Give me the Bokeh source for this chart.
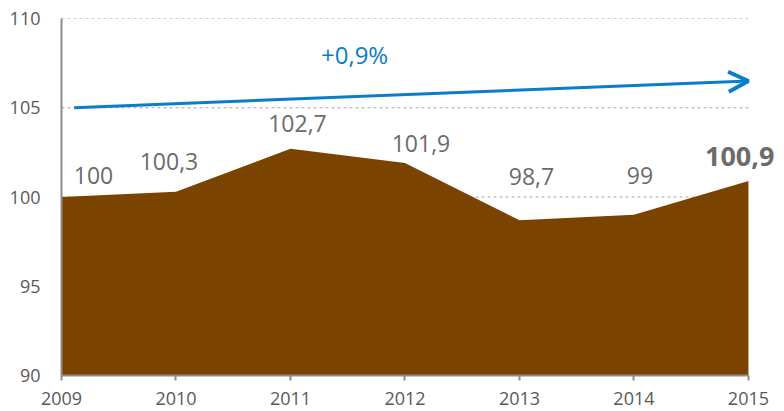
from bokeh.plotting import figure
from bokeh.models import ColumnDataSource, LabelSet, Label, Arrow, OpenHead, FixedTicker, Range1d
from bokeh.core.properties import value
from bokeh.embed import file_html
from bokeh.resources import INLINE

# ---- data ----
years = [2009, 2010, 2011, 2012, 2013, 2014, 2015]
values = [100, 100.3, 102.7, 101.9, 98.7, 99, 100.9]
value_labels = ["100", "100,3", "102,7", "101,9", "98,7", "99", "100,9"]
y_ticks = [90, 95, 100, 105, 110]
x_ticks = years

trend_x = [2009.11, 2015]
trend_y = [105, 106.5]
trend_label = "+0,9%"
trend_label_pos = [2011.56, 108]

# label placement offsets (pixels)
label_dx = [32, -7, 7, 16, 12, 6, 26]
label_dy = [22, 30, 25, 20, 44, 39, 24]

BROWN = "#7A4300"
BLUE = "#0A7DCB"
GREY_TEXT = "#595959"
LABEL_TEXT = "#6B6B6B"
FONT = "Open Sans"

X_END = 2015.245  # room on the right for the last label

p = figure(width=776, height=409, output_backend="svg", toolbar_location=None,
           x_range=Range1d(years[0], X_END), y_range=Range1d(y_ticks[0], y_ticks[-1]),
           min_border_left=61, min_border_right=0, min_border_top=18, min_border_bottom=34)
p.outline_line_color = None
p.background_fill_color = "white"
p.border_fill_color = "white"

# grid (drawn manually so it stops at the last year)
p.xgrid.grid_line_color = None
p.ygrid.grid_line_color = None
grid_src = ColumnDataSource(dict(x0=[years[0]] * len(y_ticks), x1=[years[-1]] * len(y_ticks), y=y_ticks))
p.segment(x0="x0", y0="y", x1="x1", y1="y", source=grid_src,
          line_color="#A6A6A6", line_dash="3 3", line_width=1)

# axes
p.yaxis.ticker = FixedTicker(ticks=y_ticks)
p.xaxis.ticker = FixedTicker(ticks=x_ticks)
p.xaxis.bounds = (years[0], years[-1])
for ax in (p.xaxis[0], p.yaxis[0]):
    ax.axis_line_color = "#8C8C8C"
    ax.axis_line_width = 2
    ax.major_label_text_font = FONT
    ax.major_label_text_font_size = "18px"
    ax.major_label_text_color = GREY_TEXT
    ax.minor_tick_line_color = None
p.yaxis.major_tick_line_color = None
p.yaxis.major_label_standoff = 15
p.xaxis.major_tick_line_color = "#8C8C8C"
p.xaxis.major_tick_line_width = 2
p.xaxis.major_tick_out = 5
p.xaxis.major_tick_in = 0
p.xaxis.major_label_standoff = 11

src = ColumnDataSource(dict(year=years, value=values))
p.varea(x="year", y1=0, y2="value", source=src, fill_color=BROWN, fill_alpha=1)

# data labels (all but last)
src_main = ColumnDataSource(dict(year=years[:-1], value=values[:-1], label=value_labels[:-1],
                                 dx=label_dx[:-1], dy=label_dy[:-1]))
p.add_layout(LabelSet(x="year", y="value", text="label", source=src_main,
                      x_offset="dx", y_offset="dy", text_align="center", text_baseline="middle",
                      text_font=value(FONT), text_font_size=value("23px"), text_color=value(LABEL_TEXT)))
p.add_layout(Label(x=years[-1], y=values[-1], text=value_labels[-1],
                   x_offset=label_dx[-1], y_offset=label_dy[-1],
                   text_align="right", text_baseline="middle",
                   text_font=FONT, text_font_size="27px", text_font_style="bold",
                   text_color=LABEL_TEXT))

# trend arrow
p.add_layout(Arrow(x_start=trend_x[0], y_start=trend_y[0], x_end=trend_x[1], y_end=trend_y[1],
                   line_color=BLUE, line_width=3,
                   end=OpenHead(size=20, line_color=BLUE, line_width=4)))
p.add_layout(Label(x=trend_label_pos[0], y=trend_label_pos[1], text=trend_label,
                   text_align="center", text_baseline="middle",
                   text_font=FONT, text_font_size="24px", text_color=BLUE))

open("out.html", "w").write(file_html(p, INLINE))
